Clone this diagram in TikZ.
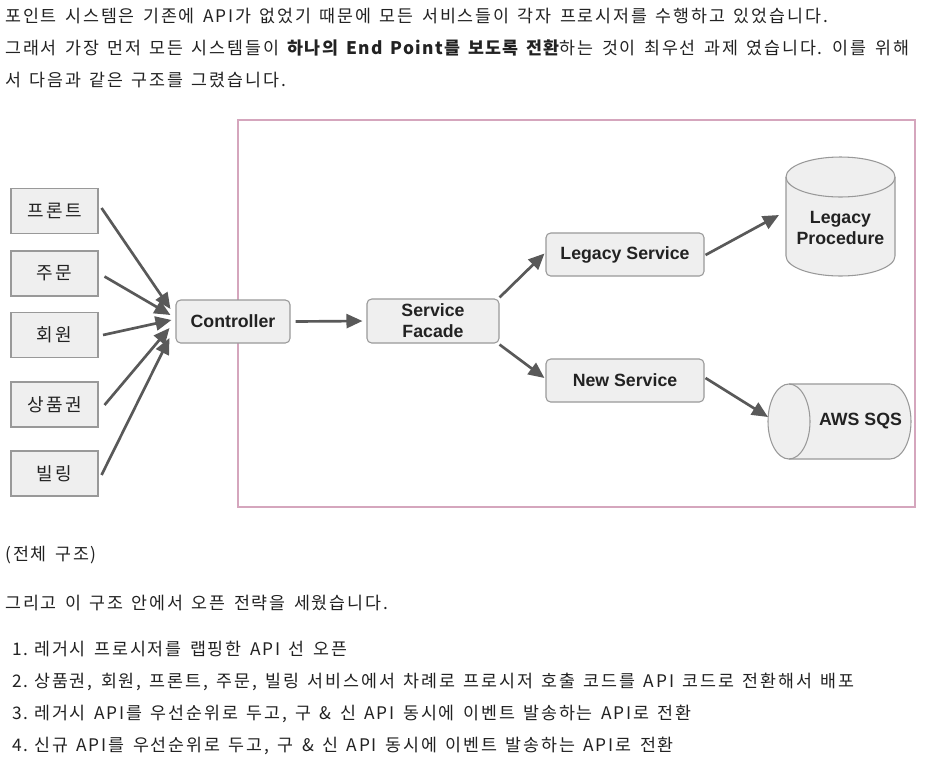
\documentclass[tikz,border=0pt]{standalone}
\usepackage{fontspec}
\setmainfont{Liberation Sans}
\newfontfamily\kr{Noto Sans CJK KR}[LetterSpace=11,WordSpace=1.45]
\newfontfamily\krbox{Noto Sans CJK KR}[LetterSpace=14]
\usetikzlibrary{arrows.meta,calc}
\definecolor{pinkline}{HTML}{D5A6BD}
\definecolor{boxfill}{HTML}{EFEFEF}
\definecolor{boxline}{HTML}{999999}
\definecolor{arrowc}{HTML}{595959}
\definecolor{txt}{HTML}{222222}
\newcommand{\numlbl}[1]{\hbox to 16.5pt{#1\hfil}}
\newcommand{\krstrong}[1]{{\bfseries\addfontfeatures{LetterSpace=8}#1}}
\begin{document}
\begin{tikzpicture}[x=0.75pt,y=-0.75pt,
  body/.style={anchor=base west, inner sep=0pt, font=\kr\fontsize{13pt}{15pt}\selectfont, text=txt},
  sqbox/.style={draw=boxline, fill=boxfill, line width=0.8pt, minimum width=65.25pt, minimum height=33.75pt, inner sep=0pt, font=\krbox\fontsize{13.5pt}{15pt}\selectfont, text=txt},
  rbox/.style={draw=boxline, fill=boxfill, line width=0.8pt, rounded corners=3.5pt, inner sep=0pt, font=\bfseries\fontsize{13.3pt}{15.75pt}\selectfont, text=txt, align=center},
  lbl/.style={inner sep=0pt, font=\bfseries\fontsize{13.3pt}{15.75pt}\selectfont, text=txt, align=center},
  cyl/.style={draw=boxline, fill=boxfill, line width=0.8pt},
  arr/.style={draw=arrowc, line width=2pt, -{Triangle[length=12pt,width=10.5pt]}},
  frame/.style={draw=pinkline, line width=1.9pt}
]
\useasboundingbox (0,0) rectangle (929,765);
\fill[white] (0,0) rectangle (929,765);

% body text
\node[body] (t1) at (5,22) {포인트 시스템은 기존에 API가 없었기 때문에 모든 서비스들이 각자 프로시저를 수행하고 있었습니다.};
\node[body] (t2) at (5,54) {그래서 가장 먼저 모든 시스템들이 \krstrong{하나의 End Point를 보도록 전환}하는 것이 최우선 과제 였습니다. 이를 위해};
\node[body] (t3) at (5,86) {서 다음과 같은 구조를 그렸습니다.};
\node[body] (cap) at (5,560) {(전체 구조)};
\node[body] (t4) at (5,609) {그리고 이 구조 안에서 오픈 전략을 세웠습니다.};
\node[body] (l1) at (12,655) {\numlbl{1.}레거시 프로시저를 랩핑한 API 선 오픈};
\node[body] (l2) at (12,687) {\numlbl{2.}상품권, 회원, 프론트, 주문, 빌링 서비스에서 차례로 프로시저 호출 코드를 API 코드로 전환해서 배포};
\node[body] (l3) at (12,719) {\numlbl{3.}레거시 API를 우선순위로 두고, 구 \& 신 API 동시에 이벤트 발송하는 API로 전환};
\node[body] (l4) at (12,751) {\numlbl{4.}신규 API를 우선순위로 두고, 구 \& 신 API 동시에 이벤트 발송하는 API로 전환};

% frame
\draw[frame] (238,120) rectangle (915,507);

% left boxes
\node[sqbox] (front)  at (54.5,211)   {프론트};
\node[sqbox] (order)  at (54.5,273.5) {주문};
\node[sqbox] (member) at (54.5,335)   {회원};
\node[sqbox] (gift)   at (54.5,404.5) {상품권};
\node[sqbox] (bill)   at (54.5,473.5) {빌링};

% rounded boxes
\node[rbox, minimum width=85.5pt, minimum height=32.25pt] (ctrl) at (233,321.5) {Controller};
\node[rbox, minimum width=99pt, minimum height=33pt] (facade) at (433,321) {Service\\Facade};
\node[rbox, minimum width=118.5pt, minimum height=32.25pt] (legsvc) at (625,254.5) {Legacy Service};
\node[rbox, minimum width=118.5pt, minimum height=32.25pt] (newsvc) at (625,380.5) {New Service};

% Legacy Procedure cylinder (vertical)
\coordinate (lpin) at (779,215);
\path[cyl] (786,177) -- (786,256) arc[start angle=180, end angle=0, x radius=54.5, y radius=20]
  -- (895,177) arc[start angle=0, end angle=-180, x radius=54.5, y radius=20] -- cycle;
\draw[draw=boxline, line width=0.8pt] (786,177) arc[start angle=180, end angle=0, x radius=54.5, y radius=20];
\node[lbl] (lp) at (840.5,227.5) {Legacy\\Procedure};

% AWS SQS cylinder (horizontal)
\coordinate (sqsin) at (768,417);
\path[cyl] (789,384) -- (890,384) arc[start angle=-90, end angle=90, x radius=21, y radius=37.5]
  -- (789,459) arc[start angle=90, end angle=270, x radius=21, y radius=37.5] -- cycle;
\draw[draw=boxline, line width=0.8pt] (789,384) arc[start angle=-90, end angle=90, x radius=21, y radius=37.5];
\node[lbl] (sqs) at (860.5,421.5) {AWS SQS};

% connectors
\draw[arr] ($(front.east)+(3,-3)$)   -- ($(ctrl.west)+(-5,-12.5)$);
\draw[arr] ($(order.east)+(6,3)$)    -- ($(ctrl.west)+(-5,-6.5)$);
\draw[arr] ($(member.east)+(4.5,0)$) -- ($(ctrl.west)+(-4,-1.5)$);
\draw[arr] ($(gift.east)+(6,0.5)$)   -- ($(ctrl.west)+(-6,6.5)$);
\draw[arr] ($(bill.east)+(3,1.5)$)   -- ($(ctrl.west)+(-6,16.5)$);
\draw[arr] ($(ctrl.east)+(5,0)$) -- ($(facade.west)+(-4,0)$);
\draw[arr] ($(facade.north east)+(0,-1)$) -- ($(legsvc.west)+(-1,-1)$);
\draw[arr] ($(facade.south east)+(0,1)$) -- ($(newsvc.west)+(-1,-2.5)$);
\draw[arr] ($(legsvc.east)+(1,0.5)$) -- (lpin);
\draw[arr] ($(newsvc.east)+(1,-2.5)$) -- (sqsin);
\end{tikzpicture}
\end{document}
